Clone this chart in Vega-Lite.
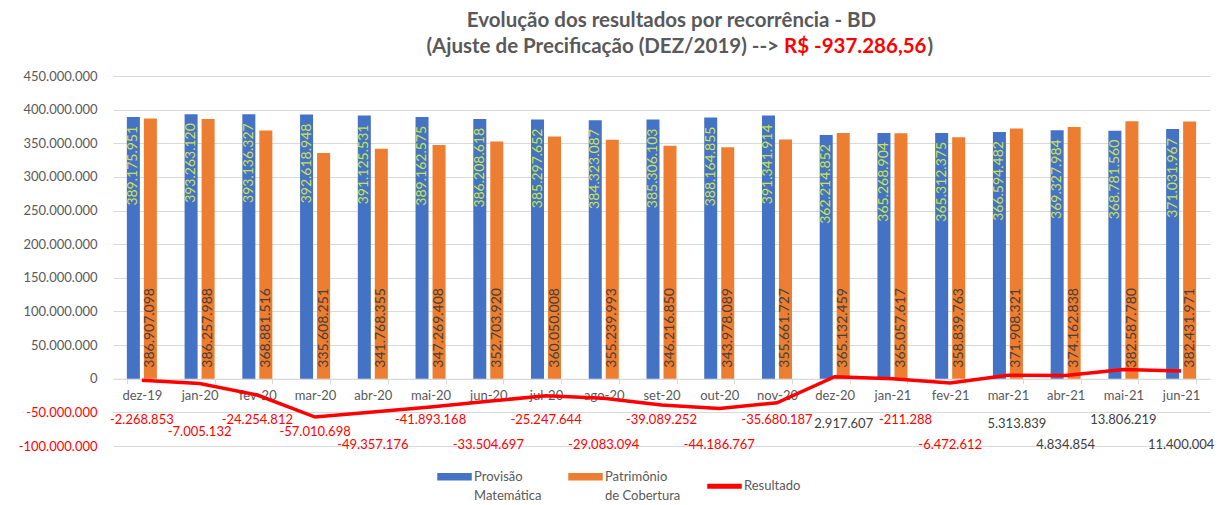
{
  "$schema": "https://vega.github.io/schema/vega-lite/v6.json",
  "width": 1097,
  "height": 370,
  "autosize": {"type": "none"},
  "padding": {"left": 113, "top": 76, "right": 14, "bottom": 59},
  "background": "white",
  "config": {
    "locale": {"number": {"decimal": ",", "thousands": ".", "grouping": [3], "currency": ["R$ ", ""], "minus": "-"}},
    "view": {"stroke": null},
    "font": "Lato",
    "axis": {"labelOverlap": false},
    "axisY": {"labelOverlap": false, "labelBound": false, "tickCount": 12, "gridColor": "#D9D9D9", "domain": false, "ticks": false, "labelPadding": 16, "labelFontSize": 13, "labelFont": "Lato", "labelColor": "#595959", "title": null}
  },
  "title": {
    "text": "Evolução dos resultados por recorrência - BD",
    "font": "Lato", "fontSize": 20.5, "fontWeight": "bold", "color": "#595959",
    "anchor": "middle", "dx": 10, "offset": -14, "baseline": "bottom"
  },
  "datasets": {
    "mensal": [
      {"mes": "dez-19", "provisao": 389175951, "patrimonio": 386907098, "resultado": -2268853},
      {"mes": "jan-20", "provisao": 393263120, "patrimonio": 386257988, "resultado": -7005132},
      {"mes": "fev-20", "provisao": 393136327, "patrimonio": 368881516, "resultado": -24254812},
      {"mes": "mar-20", "provisao": 392618948, "patrimonio": 335608251, "resultado": -57010698},
      {"mes": "abr-20", "provisao": 391125531, "patrimonio": 341768355, "resultado": -49357176},
      {"mes": "mai-20", "provisao": 389162575, "patrimonio": 347269408, "resultado": -41893168},
      {"mes": "jun-20", "provisao": 386208618, "patrimonio": 352703920, "resultado": -33504697},
      {"mes": "jul-20", "provisao": 385297652, "patrimonio": 360050008, "resultado": -25247644},
      {"mes": "ago-20", "provisao": 384323087, "patrimonio": 355239993, "resultado": -29083094},
      {"mes": "set-20", "provisao": 385306103, "patrimonio": 346216850, "resultado": -39089252},
      {"mes": "out-20", "provisao": 388164855, "patrimonio": 343978089, "resultado": -44186767},
      {"mes": "nov-20", "provisao": 391341914, "patrimonio": 355661727, "resultado": -35680187},
      {"mes": "dez-20", "provisao": 362214852, "patrimonio": 365132459, "resultado": 2917607},
      {"mes": "jan-21", "provisao": 365268904, "patrimonio": 365057617, "resultado": -211288},
      {"mes": "fev-21", "provisao": 365312375, "patrimonio": 358839763, "resultado": -6472612},
      {"mes": "mar-21", "provisao": 366594482, "patrimonio": 371908321, "resultado": 5313839},
      {"mes": "abr-21", "provisao": 369327984, "patrimonio": 374162838, "resultado": 4834854},
      {"mes": "mai-21", "provisao": 368781560, "patrimonio": 382587780, "resultado": 13806219},
      {"mes": "jun-21", "provisao": 371031967, "patrimonio": 382431971, "resultado": 11400004}
    ]
  },
  "data": {"name": "mensal"},
  "encoding": {
    "x": {
      "field": "mes", "type": "nominal",
      "scale": {
        "domain": ["dez-19","jan-20","fev-20","mar-20","abr-20","mai-20","jun-20","jul-20","ago-20","set-20","out-20","nov-20","dez-20","jan-21","fev-21","mar-21","abr-21","mai-21","jun-21"],
        "paddingInner": 0.48, "paddingOuter": 0.24
      },
      "axis": {
        "title": null, "orient": "bottom", "offset": -67.27, "labelAngle": 0,
        "domainColor": "#D9D9D9", "tickColor": "#D9D9D9", "tickBand": "extent", "tickSize": 5,
        "labelPadding": 6, "labelColor": "#595959", "labelFontSize": 13, "labelFont": "Lato", "grid": false, "labelOverlap": false
      }
    }
  },
  "layer": [
    {
      "transform": [{"fold": ["provisao", "patrimonio"], "as": ["serie", "valor"]}],
      "mark": {"type": "bar"},
      "encoding": {
        "xOffset": {"field": "serie", "type": "nominal", "scale": {"domain": ["provisao", "patrimonio"], "paddingInner": 0.235, "paddingOuter": 0}},
        "y": {
          "field": "valor", "type": "quantitative",
          "scale": {"domain": [-100000000, 450000000], "nice": false},
          "axis": {
            "title": null, "values": [-100000000, -50000000, 0, 50000000, 100000000, 150000000, 200000000, 250000000, 300000000, 350000000, 400000000, 450000000],
            "tickCount": 12, "format": ",d", "domain": false, "ticks": false, "labelPadding": 16, "labelOverlap": false,
            "gridColor": "#D9D9D9", "labelFontSize": 13, "labelFont": "Lato",
            "labelColor": {"condition": {"test": "datum.value < 0", "value": "#FF0000"}, "value": "#595959"}
          }
        },
        "color": {
          "field": "serie", "type": "nominal",
          "scale": {"domain": ["provisao", "patrimonio", "resultado"], "range": ["#4472C4", "#ED7D31", "#FF0000"]},
          "legend": {
            "orient": "none", "legendX": 324, "legendY": 383, "direction": "horizontal", "title": null,
            "padding": 0, "columnPadding": 24, "symbolSize": 1089, "labelOffset": 2,
            "symbolType": "M-1,-0.18H1V0.18H-1Z",
            "labelFont": "Lato", "labelFontSize": 13, "labelColor": "#595959", "labelBaseline": "top",
            "labelExpr": "datum.value === 'provisao' ? ['Provisão', 'Matemática'] : datum.value === 'patrimonio' ? ['Patrimônio', 'de Cobertura'] : 'Resultado'",
            "encode": {
              "symbols": {"update": {
                "fill": {"scale": "color", "field": "value"},
                "stroke": {"value": "transparent"},
                "shape": {"signal": "datum.value === 'resultado' ? 'M-1,-0.1H1V0.1H-1Z' : 'M-1,-0.18H1V0.18H-1Z'"}
              }},
              "labels": {"update": {"dy": {"value": -6}, "lineHeight": {"value": 19}}}
            }
          }
        }
      }
    },
    {
      "transform": [{"fold": ["provisao"], "as": ["serie", "valor"]}],
      "mark": {"type": "text", "angle": 270, "align": "right", "baseline": "middle", "dx": -9, "fontSize": 14, "font": "Lato", "color": "#CCE34A"},
      "encoding": {
        "xOffset": {"field": "serie", "type": "nominal"},
        "y": {"field": "valor", "type": "quantitative"},
        "text": {"field": "valor", "type": "quantitative", "format": ",d"}
      }
    },
    {
      "transform": [{"fold": ["patrimonio"], "as": ["serie", "valor"]}],
      "mark": {"type": "text", "angle": 270, "align": "left", "baseline": "middle", "dx": 11, "fontSize": 14, "font": "Lato", "color": "#4A3F36"},
      "encoding": {
        "xOffset": {"field": "serie", "type": "nominal"},
        "y": {"datum": 0},
        "text": {"field": "valor", "type": "quantitative", "format": ",d"}
      }
    },
    {
      "mark": {"type": "line", "strokeWidth": 3.5, "interpolate": "linear"},
      "encoding": {
        "y": {"field": "resultado", "type": "quantitative"},
        "color": {"datum": "resultado"}
      }
    },
    {
      "transform": [{"filter": {"field": "mes", "oneOf": ["dez-19","fev-20","mai-20","jul-20","set-20","nov-20","mai-21"]}}],
      "mark": {"type": "text", "baseline": "middle", "dx": 0, "fontSize": 13, "font": "Lato"},
      "encoding": {
        "y": {"datum": -62000000},
        "text": {"field": "resultado", "type": "quantitative", "format": ",d"},
        "color": {"condition": {"test": "datum.resultado < 0", "value": "#FF0000"}, "value": "#404040"}
      }
    },
    {
      "transform": [{"filter": {"field": "mes", "oneOf": ["jan-21"]}}],
      "mark": {"type": "text", "baseline": "middle", "dx": 13, "fontSize": 13, "font": "Lato"},
      "encoding": {
        "y": {"datum": -61000000},
        "text": {"field": "resultado", "type": "quantitative", "format": ",d"},
        "color": {"condition": {"test": "datum.resultado < 0", "value": "#FF0000"}, "value": "#404040"}
      }
    },
    {
      "transform": [{"filter": {"field": "mes", "oneOf": ["dez-20","mar-21"]}}],
      "mark": {"type": "text", "baseline": "middle", "dx": 9, "fontSize": 13, "font": "Lato"},
      "encoding": {
        "y": {"datum": -68000000},
        "text": {"field": "resultado", "type": "quantitative", "format": ",d"},
        "color": {"condition": {"test": "datum.resultado < 0", "value": "#FF0000"}, "value": "#404040"}
      }
    },
    {
      "transform": [{"filter": {"field": "mes", "oneOf": ["jan-20","mar-20"]}}],
      "mark": {"type": "text", "baseline": "middle", "dx": 0, "fontSize": 13, "font": "Lato"},
      "encoding": {
        "y": {"datum": -79000000},
        "text": {"field": "resultado", "type": "quantitative", "format": ",d"},
        "color": {"condition": {"test": "datum.resultado < 0", "value": "#FF0000"}, "value": "#404040"}
      }
    },
    {
      "transform": [{"filter": {"field": "mes", "oneOf": ["abr-20","jun-20","ago-20","out-20","fev-21","abr-21","jun-21"]}}],
      "mark": {"type": "text", "baseline": "middle", "dx": 0, "fontSize": 13, "font": "Lato"},
      "encoding": {
        "y": {"datum": -98000000},
        "text": {"field": "resultado", "type": "quantitative", "format": ",d"},
        "color": {"condition": {"test": "datum.resultado < 0", "value": "#FF0000"}, "value": "#404040"}
      }
    },
    {
      "data": {"values": [{"t": "(Ajuste de Precificação (DEZ/2019) -->"}]},
      "mark": {"type": "text", "align": "right", "baseline": "middle", "dx": 2, "fontSize": 20.5, "fontWeight": "bold", "font": "Lato", "color": "#595959"},
      "encoding": {"x": {"datum": "nov-20"}, "y": {"datum": 493000000}, "text": {"field": "t"}}
    },
    {
      "data": {"values": [{"t": "R$ -937.286,56"}]},
      "mark": {"type": "text", "align": "left", "baseline": "middle", "dx": 7, "fontSize": 20.5, "fontWeight": "bold", "font": "Lato", "color": "#FF0000"},
      "encoding": {"x": {"datum": "nov-20"}, "y": {"datum": 493000000}, "text": {"field": "t"}}
    },
    {
      "data": {"values": [{"t": ")"}]},
      "mark": {"type": "text", "align": "left", "baseline": "middle", "dx": 35, "fontSize": 20.5, "fontWeight": "bold", "font": "Lato", "color": "#595959"},
      "encoding": {"x": {"datum": "jan-21"}, "y": {"datum": 493000000}, "text": {"field": "t"}}
    }
  ]
}
